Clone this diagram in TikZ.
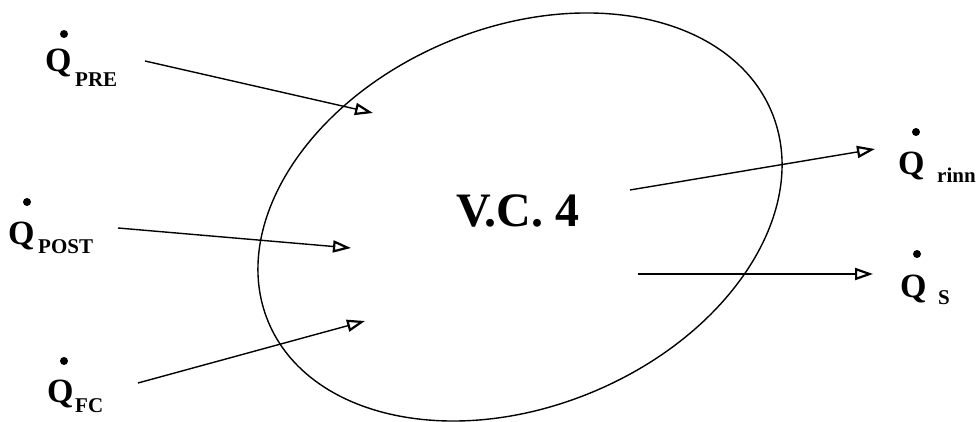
\documentclass[tikz,border=0pt]{standalone}
\usepackage{fontspec}
\setmainfont{Liberation Serif}
\usetikzlibrary{arrows.meta}
\tikzset{
  flow/.style={line width=1.4pt, -{Triangle[open, length=18pt, width=12pt, line width=2.2pt]}},
  qsym/.style={anchor=base west, inner sep=0pt, font=\bfseries\fontsize{34}{34}\selectfont},
  qsub/.style={anchor=base west, inner sep=0pt, font=\bfseries\fontsize{21}{21}\selectfont},
  qdot/.style={fill=black},
  vol/.style={line width=1.4pt},
  vctext/.style={anchor=base, inner sep=0pt, font=\bfseries\fontsize{48}{48}\selectfont}
}
\begin{document}
\begin{tikzpicture}[x=1pt,y=1pt]
\useasboundingbox (0,0) rectangle (979,422);
% control volume
\draw[vol] (520,205) ellipse [x radius=272.7pt, y radius=189.5pt, rotate=22.66];
\node[vctext] (vc) at (518,195) {V.C. 4};
% labels
\node[qsym] (qpre) at (45,350) {Q};
\node[qsub] (qpresub) at (75,335) {PRE};
\fill[qdot] (64,388) circle (4pt);
\node[qsym] (qpost) at (8,177) {Q};
\node[qsub] (qpostsub) at (38,168) {POST};
\fill[qdot] (27,220) circle (4pt);
\node[qsym] (qfc) at (47,19) {Q};
\node[qsub] (qfcsub) at (75,9) {FC};
\fill[qdot] (64,61) circle (4pt);
\node[qsym] (qrinn) at (898,247) {Q};
\node[qsub] (qrinnsub) at (937,239) {rinn};
\fill[qdot] (916,290) circle (4pt);
\node[qsym] (qs) at (900,124) {Q};
\node[qsub] (qssub) at (938,117) {S};
\fill[qdot] (917,168) circle (4pt);
% arrow end points
\coordinate (preA) at (145,361); \coordinate (preB) at (373,309);
\coordinate (postA) at (118,194); \coordinate (postB) at (351,174);
\coordinate (fcA) at (138,39); \coordinate (fcB) at (365,101);
\coordinate (rinnA) at (630,232); \coordinate (rinnB) at (875,273);
\coordinate (sA) at (638,148); \coordinate (sB) at (873,148);
\draw[flow] (preA) -- (preB);
\draw[flow] (postA) -- (postB);
\draw[flow] (fcA) -- (fcB);
\draw[flow] (rinnA) -- (rinnB);
\draw[flow] (sA) -- (sB);
\end{tikzpicture}
\end{document}
